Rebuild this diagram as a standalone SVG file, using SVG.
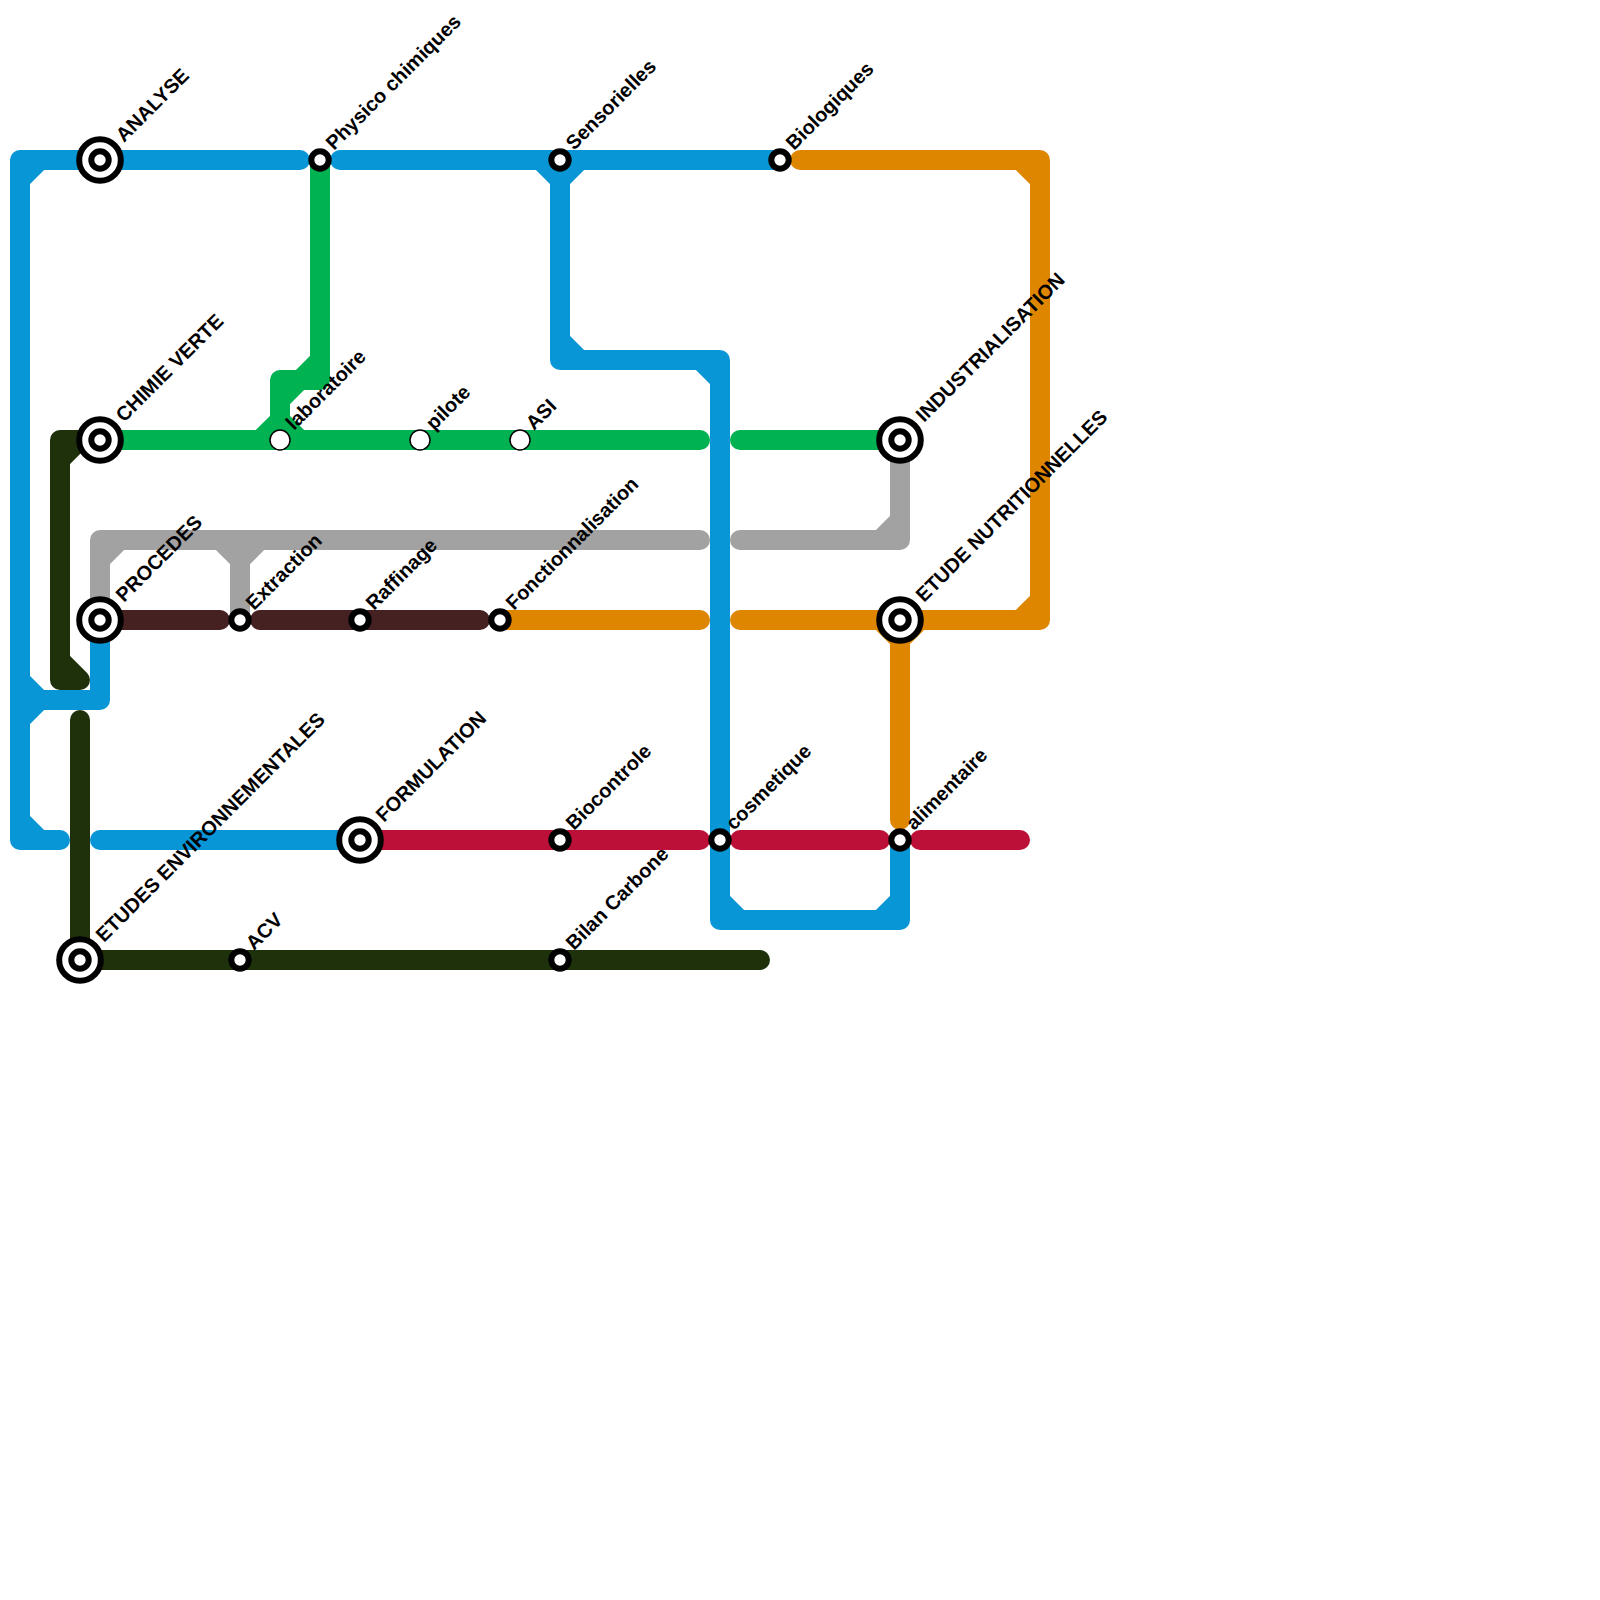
<svg xmlns="http://www.w3.org/2000/svg" width="1600" height="1600" viewBox="0 0 1600 1600">
<style>
.l{fill:none;stroke-width:20;stroke-linecap:round;stroke-linejoin:round}
.blue{stroke:#0896d7}.green{stroke:#00b251}.gray{stroke:#a2a2a2}.orange{stroke:#df8600}.dark{stroke:#1e310a}.brown{stroke:#452122}.red{stroke:#bd1038}
.ring{fill:#fff;stroke:#000;stroke-width:6}
.big{fill:#fff;stroke:#000;stroke-width:6}
.open{fill:#fff;stroke:#000;stroke-width:1.5}
text{font-family:"Liberation Sans",Arial,sans-serif;font-size:20px;font-weight:700;fill:#000}
</style>
<rect width="1600" height="1600" fill="#fff"/>
<g id="connectors">
<path class="l gray" d="M700,540H100V620M100,560L120,540M240,540V620M220,540L240,560L260,540M740,540H900V440M880,540L900,520"/>
<path class="l green" d="M320,160V380H280V440M300,380L320,360M280,400L300,380M100,440H700M260,440L280,420L300,440M740,440H900"/>
<path class="l blue" d="M300,160H20V840H60M20,180L40,160M20,820L40,840M20,680L40,700L20,720M20,700H100V620M340,160H780M540,160L560,180L580,160M560,160V360H720V920H900V840M560,340L580,360M700,360L720,380M720,900L740,920M880,920L900,900M100,840H360"/>
<path class="l dark" d="M100,440H60V680H80M60,460L80,440M60,660L80,680M80,720V960H760"/>
<path class="l brown" d="M100,620H220M260,620H480"/>
<path class="l orange" d="M500,620H700M740,620H1040V160H800M1020,620L1040,600M1020,160L1040,180M900,620V820M880,620L900,640L920,620"/>
<path class="l red" d="M360,840H700M740,840H880M920,840H1020"/>
</g>
<g id="n-analyse"><circle class="big" cx="100" cy="160" r="20.8"/><circle class="ring" cx="100" cy="160" r="8.7"/><text transform="translate(124,143) rotate(-45)">ANALYSE</text></g>
<g id="n-physico"><circle class="ring" cx="320" cy="160" r="8.7"/><text transform="translate(334,151) rotate(-45)">Physico chimiques</text></g>
<g id="n-sensorielles"><circle class="ring" cx="560" cy="160" r="8.7"/><text transform="translate(574,151) rotate(-45)">Sensorielles</text></g>
<g id="n-biologiques"><circle class="ring" cx="780" cy="160" r="8.7"/><text transform="translate(794,151) rotate(-45)">Biologiques</text></g>
<g id="n-chimie"><circle class="big" cx="100" cy="440" r="20.8"/><circle class="ring" cx="100" cy="440" r="8.7"/><text transform="translate(124,423) rotate(-45)">CHIMIE VERTE</text></g>
<g id="n-labo"><circle class="open" cx="280" cy="440" r="10"/><text transform="translate(294,431) rotate(-45)">laboratoire</text></g>
<g id="n-pilote"><circle class="open" cx="420" cy="440" r="10"/><text transform="translate(434,431) rotate(-45)">pilote</text></g>
<g id="n-asi"><circle class="open" cx="520" cy="440" r="10"/><text transform="translate(534,431) rotate(-45)">ASI</text></g>
<g id="n-indus"><circle class="big" cx="900" cy="440" r="20.8"/><circle class="ring" cx="900" cy="440" r="8.7"/><text transform="translate(924,423) rotate(-45)">INDUSTRIALISATION</text></g>
<g id="n-procedes"><circle class="big" cx="100" cy="620" r="20.8"/><circle class="ring" cx="100" cy="620" r="8.7"/><text transform="translate(124,603) rotate(-45)">PROCEDES</text></g>
<g id="n-extraction"><circle class="ring" cx="240" cy="620" r="8.7"/><text transform="translate(254,611) rotate(-45)">Extraction</text></g>
<g id="n-raffinage"><circle class="ring" cx="360" cy="620" r="8.7"/><text transform="translate(374,611) rotate(-45)">Raffinage</text></g>
<g id="n-fonction"><circle class="ring" cx="500" cy="620" r="8.7"/><text transform="translate(514,611) rotate(-45)">Fonctionnalisation</text></g>
<g id="n-nutrition"><circle class="big" cx="900" cy="620" r="20.8"/><circle class="ring" cx="900" cy="620" r="8.7"/><text transform="translate(924,603) rotate(-45)">ETUDE NUTRITIONNELLES</text></g>
<g id="n-formulation"><circle class="big" cx="360" cy="840" r="20.8"/><circle class="ring" cx="360" cy="840" r="8.7"/><text transform="translate(384,823) rotate(-45)">FORMULATION</text></g>
<g id="n-biocontrole"><circle class="ring" cx="560" cy="840" r="8.7"/><text transform="translate(574,831) rotate(-45)">Biocontrole</text></g>
<g id="n-cosmetique"><circle class="ring" cx="720" cy="840" r="8.7"/><text transform="translate(734,831) rotate(-45)">cosmetique</text></g>
<g id="n-alimentaire"><circle class="ring" cx="900" cy="840" r="8.7"/><text transform="translate(914,831) rotate(-45)">alimentaire</text></g>
<g id="n-etudes-env"><circle class="big" cx="80" cy="960" r="20.8"/><circle class="ring" cx="80" cy="960" r="8.7"/><text transform="translate(104,943) rotate(-45)">ETUDES ENVIRONNEMENTALES</text></g>
<g id="n-acv"><circle class="ring" cx="240" cy="960" r="8.7"/><text transform="translate(254,951) rotate(-45)">ACV</text></g>
<g id="n-bilan"><circle class="ring" cx="560" cy="960" r="8.7"/><text transform="translate(574,951) rotate(-45)">Bilan Carbone</text></g>
</svg>
